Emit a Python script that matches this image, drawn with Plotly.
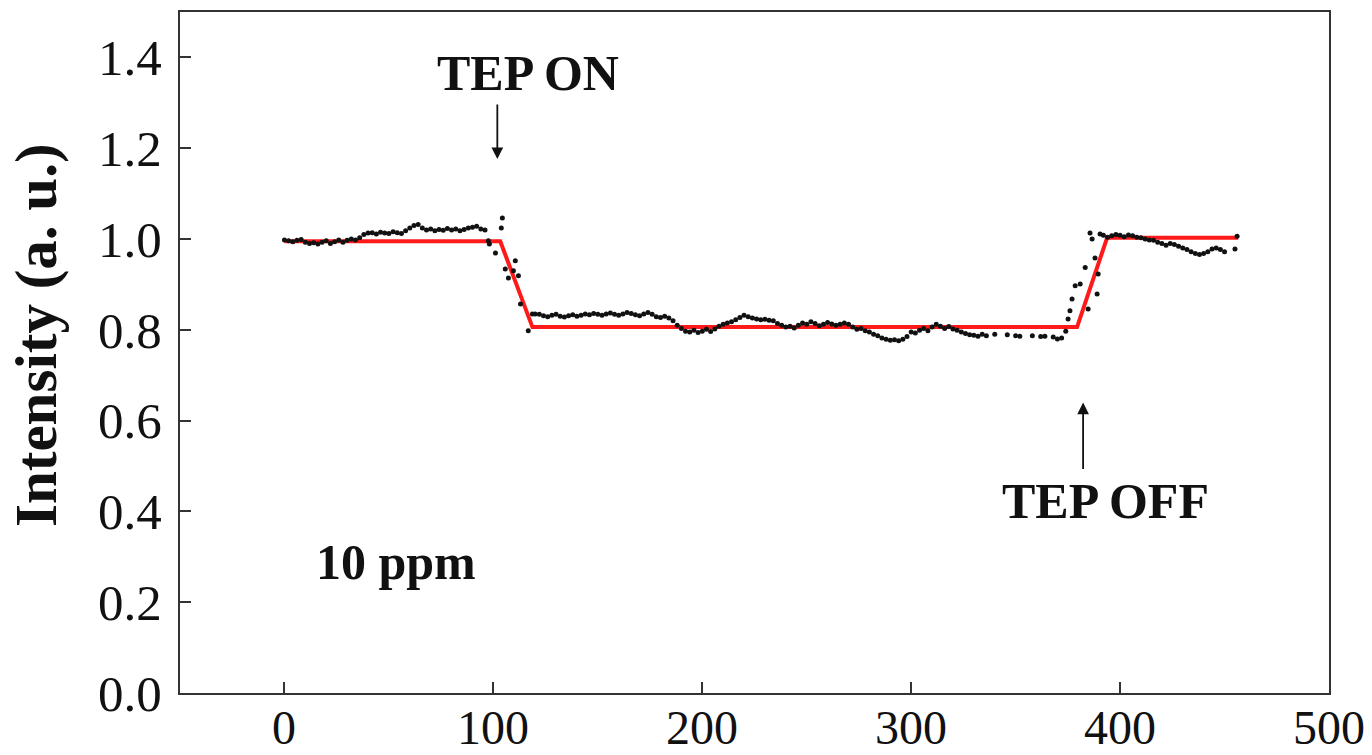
import plotly.graph_objects as go

# Measured intensity (black dots)
time_s = [0, 2, 4, 6, 8, 10, 12, 14, 16, 18, 20, 22, 24, 26, 28, 30, 32, 34, 36, 38,
          40, 42, 44, 46, 48, 50, 52, 54, 56, 58, 60, 62, 64, 66, 68, 70, 72, 74, 76, 78,
          80, 82, 84, 86, 88, 90, 92, 94, 96,
          97.6, 98.1, 101, 103.8, 104.3, 105.7, 107.2, 109.6, 110.5, 112, 113, 116.7,
          118.7, 120, 122, 124, 126, 128, 130, 132, 134, 136, 138, 140, 142, 144, 146, 148,
          150, 152, 154, 156, 158, 160, 162, 164, 166, 168, 170, 172, 174, 176, 178, 180,
          182, 184, 186, 188, 190, 192, 194, 196, 198, 200, 202, 204, 206, 208, 210, 212,
          214, 216, 218, 220, 222, 224, 226, 228, 230, 232, 234, 236, 238, 240, 242, 244,
          246, 248, 250, 252, 254, 256, 258, 260, 262, 264, 266, 268, 270, 272, 274, 276,
          278, 280, 282, 284, 286, 288, 290, 292, 294, 296, 298, 300, 302, 304, 306, 308,
          310, 312, 314, 316, 318, 320, 322, 324, 326, 328, 330, 332, 334, 336,
          340, 346, 350, 352, 358, 362, 364, 368, 370, 372, 374,
          375.1, 376, 377, 378.5, 380.9, 383.3, 384.7, 385.6, 386.6, 388, 389, 389.5, 390.4,
          392, 394, 396, 398, 400, 402, 404, 406, 408, 410, 412, 414, 416, 418, 420, 422,
          424, 426, 428, 430, 432, 434, 436, 438, 440, 442, 444, 446, 448, 450, 455, 456]
intensity = [0.998, 0.996, 0.994, 0.997, 0.999, 0.993, 0.990, 0.992, 0.989, 0.993, 0.996,
             0.990, 0.994, 0.998, 0.993, 0.997, 1.000, 0.998, 1.003, 1.010,
             1.013, 1.014, 1.011, 1.015, 1.013, 1.012, 1.016, 1.014, 1.012, 1.018,
             1.024, 1.030, 1.032, 1.024, 1.020, 1.022, 1.018, 1.021, 1.019, 1.023,
             1.020, 1.022, 1.018, 1.021, 1.024, 1.026, 1.028, 1.022, 1.020,
             0.996, 0.989, 0.969, 1.024, 1.046, 0.934, 0.914, 0.930, 0.952, 0.919, 0.857, 0.798,
             0.835, 0.835, 0.834, 0.831, 0.829, 0.832, 0.834, 0.830, 0.828, 0.831, 0.833, 0.830,
             0.832, 0.835, 0.833, 0.836, 0.834, 0.832, 0.835, 0.837, 0.834, 0.832, 0.835, 0.838,
             0.836, 0.833, 0.831, 0.835, 0.838, 0.834, 0.829, 0.827, 0.830, 0.826, 0.820, 0.810,
             0.803, 0.797, 0.795, 0.799, 0.794, 0.797, 0.801, 0.796, 0.802, 0.808, 0.812, 0.815,
             0.818, 0.822, 0.827, 0.832, 0.829, 0.826, 0.824, 0.822, 0.823, 0.821, 0.820, 0.814,
             0.810, 0.806, 0.808, 0.804, 0.810, 0.815, 0.812, 0.818, 0.814, 0.809, 0.812, 0.816,
             0.813, 0.810, 0.812, 0.815, 0.812, 0.806, 0.801, 0.803, 0.798, 0.795, 0.790, 0.787,
             0.782, 0.779, 0.777, 0.778, 0.776, 0.779, 0.785, 0.795, 0.793, 0.799, 0.803, 0.798,
             0.806, 0.812, 0.808, 0.803, 0.807, 0.802, 0.799, 0.795, 0.792, 0.789, 0.788, 0.786,
             0.790, 0.787,
             0.790, 0.789, 0.787, 0.786, 0.787, 0.785, 0.786, 0.784, 0.780, 0.782, 0.797,
             0.824, 0.842, 0.868, 0.897, 0.901, 0.937, 0.846, 1.013, 1.000, 0.958, 0.879, 0.923, 1.011,
             1.008, 1.004, 1.007, 1.010, 1.008, 1.005, 1.009, 1.007, 1.004, 1.003, 1.000, 0.998,
             0.997, 0.993, 0.990, 0.986, 0.990, 0.988, 0.984, 0.980, 0.977, 0.972, 0.968, 0.966,
             0.968, 0.972, 0.978, 0.980, 0.977, 0.972, 0.978, 1.006]

# Fitted step profile (red line)
fit_time = [0, 103.3, 118.7, 379.4, 393.8, 456.5]
fit_intensity = [0.995, 0.995, 0.806, 0.806, 1.003, 1.003]

x_ticks = [0, 100, 200, 300, 400, 500]
y_ticks = [0.0, 0.2, 0.4, 0.6, 0.8, 1.0, 1.2, 1.4]

SERIF = "Liberation Serif, Times New Roman, serif"
TICK_FONT = dict(family=SERIF, size=51, color="#111111")
XTICK_FONT = dict(family=SERIF, size=48, color="#111111")

fig = go.Figure()
fig.add_trace(go.Scatter(x=fit_time, y=fit_intensity, mode="lines",
                         line=dict(color="#ff1a1a", width=4), showlegend=False))
fig.add_trace(go.Scatter(x=time_s, y=intensity, mode="markers",
                         marker=dict(color="#111111", size=5), showlegend=False))

axis_common = dict(showline=True, linecolor="#333333", linewidth=2, mirror=True,
                   ticks="inside", ticklen=11, tickwidth=2, tickcolor="#333333",
                   showgrid=False, zeroline=False, automargin=False)

# x tick labels are drawn as annotations so they can sit close to the axis
fig.update_xaxes(range=[-50, 500], tickvals=x_ticks, showticklabels=False, **axis_common)
fig.update_yaxes(range=[0, 1.5], tickvals=y_ticks,
                 ticktext=[f"{v:.1f}" for v in y_ticks], ticklabelstandoff=6,
                 tickfont=TICK_FONT, **axis_common)

annotations = []
for v in x_ticks:
    annotations.append(dict(x=v, y=0, xref="x", yref="y", text=str(v), showarrow=False,
                            xanchor="center", yanchor="middle", yshift=-34,
                            font=XTICK_FONT))

bold_font = dict(family=SERIF, size=50, color="#111111")
annotations += [
    dict(x=116.7, y=1.365, xref="x", yref="y", text="<b>TEP ON</b>", showarrow=False,
         font=bold_font),
    dict(x=392.8, y=0.422, xref="x", yref="y", text="<b>TEP OFF</b>", showarrow=False,
         font=bold_font),
    dict(x=53.6, y=0.288, xref="x", yref="y", text="<b>10 ppm</b>", showarrow=False,
         font=dict(family=SERIF, size=50, color="#111111")),
    # arrows
    dict(x=101.9, y=1.176, xref="x", yref="y", ax=0, ay=-56, text="", showarrow=True,
         arrowhead=2, arrowsize=1.3, arrowwidth=1.8, arrowcolor="#111111"),
    dict(x=382.3, y=0.64, xref="x", yref="y", ax=0, ay=68, text="", showarrow=True,
         arrowhead=2, arrowsize=1.3, arrowwidth=1.8, arrowcolor="#111111"),
]

# y-axis title placed by pixel position converted to paper coordinates
pw, ph = 1372 - 180 - 43, 755 - 12 - 62
annotations.append(dict(x=(36 - 180) / pw, y=(755 - 62 - 335) / ph,
                        xref="paper", yref="paper", xanchor="center", yanchor="middle",
                        text="<b>Intensity (a. u.)</b>", showarrow=False, textangle=-90,
                        font=dict(family=SERIF, size=59, color="#111111")))

fig.update_layout(width=1372, height=755, margin=dict(l=180, r=43, t=12, b=62),
                  paper_bgcolor="white", plot_bgcolor="white", annotations=annotations)

fig.write_html("out.html")
